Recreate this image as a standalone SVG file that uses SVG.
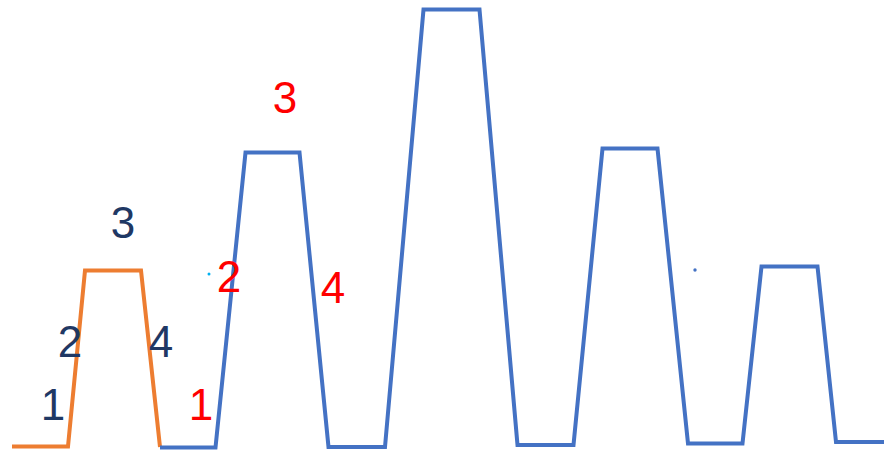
<svg xmlns="http://www.w3.org/2000/svg" width="884" height="453" viewBox="0 0 884 453">
<style>
.ln{fill:none;stroke-width:4;stroke-linejoin:miter}
.or{stroke:#ED7D31}
.bl{stroke:#4472C4}
.t{font-family:"Liberation Sans",Arial,sans-serif;font-size:44px;text-anchor:middle}
.nv{fill:#1F3864}
.rd{fill:#FF0000}
</style>
<rect width="884" height="453" fill="#FFFFFF"/>
<g id="orange-pulse">
<polyline class="ln or" points="12,446.5 68,446.5 85,270.5 141,270.5 160,447"/>
</g>
<g id="blue-pulses">
<polyline class="ln bl" points="160,447.5 215.5,447.5 245.5,152.5 299.5,152.5 328.5,447 385,447 423.5,9.5 479.5,9.5 517.5,445 573.5,445 602.5,148.5 657.5,148.5 688,443.5 742.5,443.5 761.5,266.5 817.5,266.5 836,442 884,442"/>
</g>
<circle cx="209" cy="274" r="1.5" fill="#00B0F0"/>
<circle cx="695" cy="270" r="1.7" fill="#4472C4"/>
<g id="labels-navy">
<text class="t nv" x="53" y="420">1</text>
<text class="t nv" x="70" y="357">2</text>
<text class="t nv" x="123" y="238">3</text>
<text class="t nv" x="161" y="357">4</text>
</g>
<g id="labels-red">
<text class="t rd" x="201" y="420">1</text>
<text class="t rd" x="229" y="292">2</text>
<text class="t rd" x="285" y="113">3</text>
<text class="t rd" x="333" y="303">4</text>
</g>
</svg>
